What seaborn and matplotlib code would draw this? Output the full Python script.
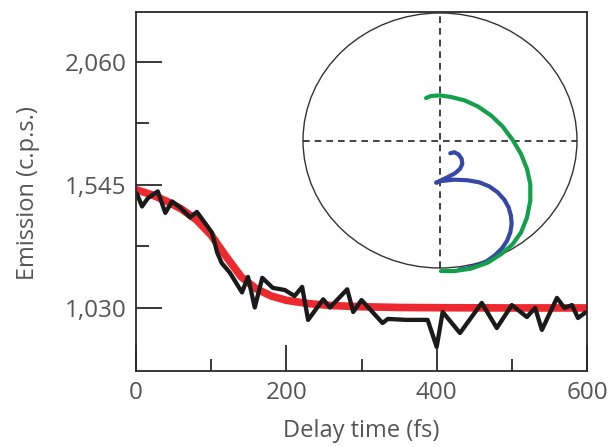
import numpy as np
import pandas as pd
import matplotlib
matplotlib.use("Agg")
import matplotlib.pyplot as plt
from matplotlib.patches import Ellipse
import seaborn as sns

# ---- data ----
delay_fs = [1, 8, 16, 29, 39, 48, 59, 72, 81, 101, 108, 114, 125, 141, 149, 158, 168,
            182, 198, 211, 221, 229, 249, 258, 281, 289, 300, 328, 335, 360, 388, 400,
            408, 431, 460, 480, 500, 520, 531, 540, 560, 570, 580, 588, 597, 600]
emission = [1510, 1455, 1490, 1518, 1428, 1476, 1450, 1409, 1432, 1346, 1262, 1218, 1177,
            1095, 1160, 1032, 1156, 1114, 1105, 1080, 1118, 980, 1066, 1032, 1108, 1013,
            1063, 967, 984, 980, 980, 867, 1013, 925, 1051, 946, 1042, 992, 1030, 938,
            1072, 1030, 1042, 988, 1009, 1012]

fit_fs = [0, 20, 40, 60, 80, 100, 120, 140, 160, 180, 200, 230, 260, 300, 350, 400, 500, 600]
fit_emission = [1525, 1505, 1478, 1445, 1400, 1335, 1245, 1160, 1110, 1080, 1062, 1048,
                1040, 1035, 1032, 1031, 1030, 1030]

green_x = [-0.102, -0.066, 0.000, 0.080, 0.178, 0.275, 0.372, 0.457, 0.530, 0.591, 0.635,
           0.659, 0.659, 0.635, 0.591, 0.530, 0.445, 0.348, 0.226, 0.105, 0.007]
green_y = [0.333, 0.349, 0.354, 0.341, 0.315, 0.268, 0.197, 0.110, 0.005, -0.105, -0.223,
           -0.341, -0.472, -0.604, -0.722, -0.814, -0.892, -0.958, -1.005, -1.024, -1.024]

blue_x = [0.075, 0.105, 0.136, 0.158, 0.163, 0.146, 0.112, 0.068, 0.027, -0.005, -0.029,
          0.007, 0.105, 0.202, 0.287, 0.360, 0.421, 0.470, 0.501, 0.518, 0.523, 0.513,
          0.489, 0.453, 0.401, 0.343, 0.275, 0.202, 0.141]
blue_y = [-0.100, -0.092, -0.110, -0.144, -0.184, -0.223, -0.255, -0.281, -0.302, -0.320,
          -0.331, -0.318, -0.307, -0.312, -0.328, -0.360, -0.407, -0.465, -0.525, -0.591,
          -0.656, -0.722, -0.787, -0.845, -0.900, -0.945, -0.979, -1.003, -1.013]

y_major = [1030, 1545, 2060]
y_labels = ["1,030", "1,545", "2,060"]
x_major = [0, 200, 400, 600]

sns.set_theme(style="ticks")
plt.rcParams['font.family'] = ['Open Sans', 'DejaVu Sans']

fig = plt.figure(figsize=(6.14, 4.47), dpi=100)
ax = fig.add_axes([136/614, 1-371/447, (587-136)/614, (371-12)/447])

fit_df = pd.DataFrame({"t": fit_fs, "v": fit_emission})
dat_df = pd.DataFrame({"t": delay_fs, "v": emission})
sns.lineplot(data=fit_df, x="t", y="v", ax=ax, color="#ec1c24", lw=5.5,
             estimator=None, sort=False, alpha=0.95)
sns.lineplot(data=dat_df, x="t", y="v", ax=ax, color="#1a1a1a", lw=3.1,
             estimator=None, sort=False)

ax.set_xlim(0, 600)
ax.set_ylim(766, 2269)
ax.set_xticks(x_major)
ax.set_xticks([100, 300, 500], minor=True)
ax.set_yticks(y_major)
ax.set_yticklabels(y_labels)
ax.set_yticks([1287.5, 1802.5], minor=True)
spine_c = "#2a2a2a"
for s in ax.spines.values():
    s.set_visible(True)
    s.set_color(spine_c)
    s.set_linewidth(1.3)
ax.tick_params(which="major", direction="in", length=19, width=1.3, color=spine_c,
               labelsize=17.5, labelcolor="#555555", pad=7)
ax.tick_params(which="minor", direction="in", length=9, width=1.3, color=spine_c)
ax.set_xlabel("Delay time (fs)", fontsize=17, color="#555555")
ax.set_ylabel("Emission (c.p.s.)", fontsize=17, color="#555555")
ax.xaxis.set_label_coords(0.5, -0.135)
ax.yaxis.set_label_coords(-0.212, 0.496)

# inset
ins = fig.add_axes([303/614, 1-268/447, 274/614, 255/447])
ins.set_xlim(-1, 1)
ins.set_ylim(-1, 1)
ins.axis("off")
ins.add_patch(Ellipse((0, 0), 2, 2, fill=False, ec="#333333", lw=1.0, clip_on=False))
ins.plot([-1, 1], [0, 0], ls=(0, (4, 3)), color="#222222", lw=1.2, clip_on=False)
ins.plot([0, 0], [-1, 1], ls=(0, (4, 3)), color="#222222", lw=1.2, clip_on=False)
sns.lineplot(x=blue_x, y=blue_y, ax=ins, color="#3548a8", lw=3.0,
             estimator=None, sort=False)
sns.lineplot(x=green_x, y=green_y, ax=ins, color="#13a04b", lw=3.0,
             estimator=None, sort=False)
for ln in ins.lines[2:]:
    ln.set_clip_on(False)
    ln.set_solid_capstyle("round")
    ln.set_solid_joinstyle("round")
ins.set_xlim(-1, 1)
ins.set_ylim(-1, 1)

fig.savefig("out.png", dpi=100)
